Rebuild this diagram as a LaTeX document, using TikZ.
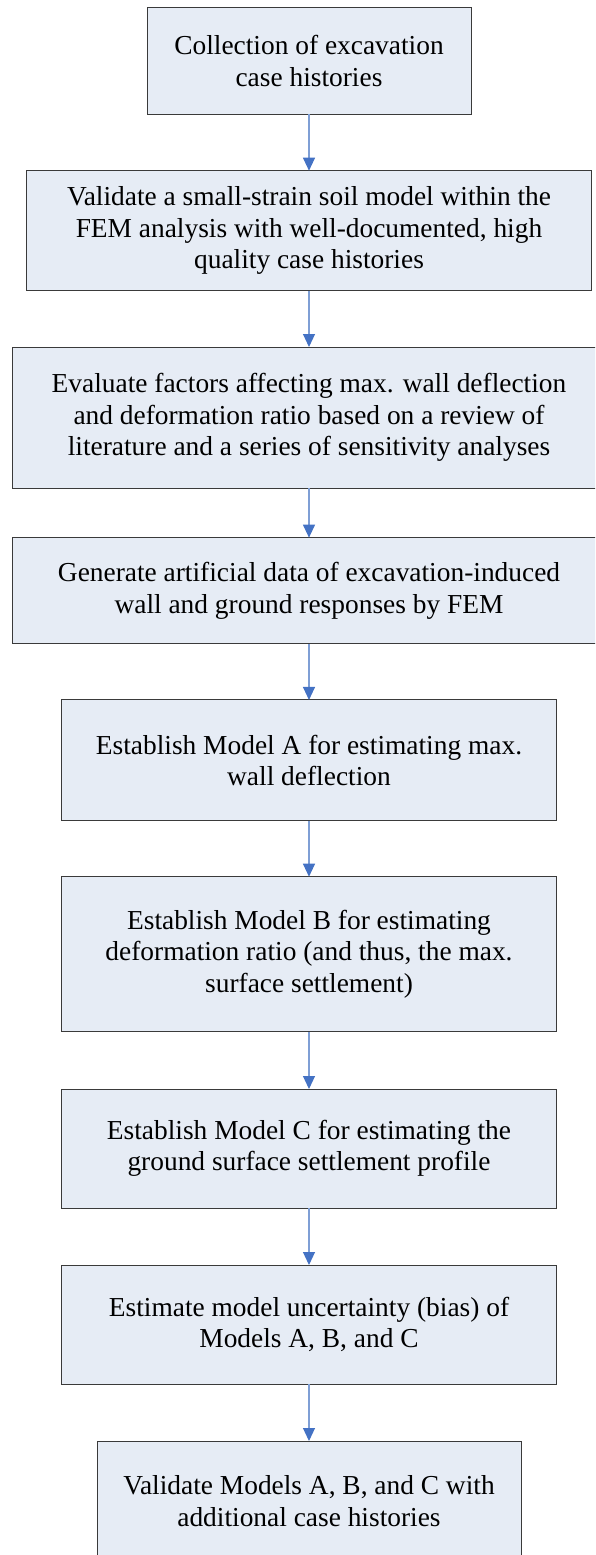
\documentclass[tikz,border=0pt]{standalone}
\usepackage{fontspec}
\IfFontExistsTF{LiberationSerif-Regular.ttf}
  {\newfontfamily\tnrfont[Extension=.ttf,UprightFont=*-Regular]{LiberationSerif}}
  {\newfontfamily\tnrfont{Liberation Serif}}
\usetikzlibrary{arrows.meta}
\definecolor{boxfill}{HTML}{E6ECF5}
\definecolor{boxline}{HTML}{3A3A3A}
\definecolor{arrline}{HTML}{7F9FD5}
\definecolor{arrhead}{HTML}{4472C4}
\begin{document}
\begin{tikzpicture}[x=1pt,y=-1pt,
  stepbox/.style={draw=boxline, fill=boxfill, line width=1pt, align=center,
    inner sep=0pt, outer sep=0pt,
    font=\tnrfont\fontsize{27.4}{31.5}\selectfont},
  flow/.style={draw=arrline, line width=1.1pt,
    -{Triangle[width=12pt,length=13pt,color=arrhead]}}]
\useasboundingbox (0,0) rectangle (595,1555);
\clip (0,0) rectangle (595,1555);
\node[stepbox, minimum width=324pt, minimum height=106.5pt] (b1) at (309,60.75)
  {Collection of excavation\\case histories};
\node[stepbox, minimum width=564.6pt, minimum height=120pt] (b2) at (309,230.7)
  {Validate a small-strain soil model within the\\FEM analysis with well-documented, high\\quality case histories};
\node[stepbox, minimum width=592.6pt, minimum height=141pt] (b3) at (309,417.5)
  {Evaluate factors affecting max. wall deflection\\and deformation ratio based on a review of\\literature and a series of sensitivity analyses};
\node[stepbox, minimum width=592.6pt, minimum height=106.3pt] (b4) at (309,590.8)
  {Generate artificial data of excavation-induced\\wall and ground responses by FEM};
\node[stepbox, minimum width=494.6pt, minimum height=120.7pt] (b5) at (309,760.3)
  {Establish Model A for estimating max.\\wall deflection};
\node[stepbox, minimum width=494.6pt, minimum height=155pt] (b6) at (309,954.2)
  {Establish Model B for estimating\\deformation ratio (and thus, the max.\\surface settlement)};
\node[stepbox, minimum width=494.6pt, minimum height=119pt] (b7) at (309,1148.5)
  {Establish Model C for estimating the\\ground surface settlement profile};
\node[stepbox, minimum width=494.6pt, minimum height=119pt] (b8) at (309,1324.5)
  {Estimate model uncertainty (bias) of\\Models A, B, and C};
\node[stepbox, minimum width=424pt, minimum height=120pt] (b9) at (309,1501)
  {Validate Models A, B, and C with\\additional case histories};
\draw[flow] (b1) -- (b2);
\draw[flow] (b2) -- (b3);
\draw[flow] (b3) -- (b4);
\draw[flow] (b4) -- (b5);
\draw[flow] (b5) -- (b6);
\draw[flow] (b6) -- (b7);
\draw[flow] (b7) -- (b8);
\draw[flow] (b8) -- (b9);
\end{tikzpicture}
\end{document}
